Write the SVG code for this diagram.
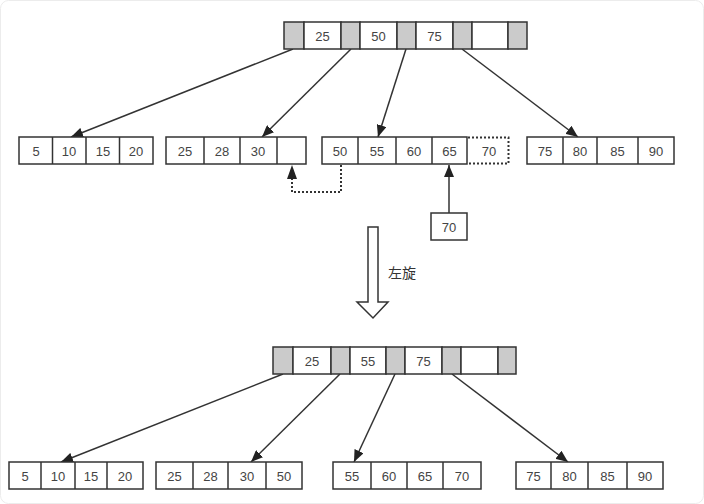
<svg xmlns="http://www.w3.org/2000/svg" width="704" height="504" viewBox="0 0 704 504">
<style>
.cell{fill:#fff;stroke:#333;stroke-width:1.5}
.ptr{fill:#cbcbcb;stroke:#333;stroke-width:1.5}
.div{stroke:#333;stroke-width:1.5}
.t{font-family:"Liberation Sans",Arial,sans-serif;font-size:13px;fill:#444;text-anchor:middle;dominant-baseline:central}
.edge{stroke:#333;stroke-width:1.5;fill:none}
.dot{stroke:#333;stroke-width:2;fill:none;stroke-dasharray:2 2}
.cn{font-family:"Liberation Sans","Noto Sans CJK SC",sans-serif;font-size:14px;fill:#333}
</style>
<defs>
<marker id="ah" markerUnits="userSpaceOnUse" markerWidth="12" markerHeight="10" refX="12" refY="5" orient="auto">
<path d="M0,0 L12,5 L0,10 z" fill="#222" stroke="none"/>
</marker>
</defs>
<rect x="0.5" y="0.5" width="703" height="503" rx="8" fill="#fff" stroke="#ececec"/>

<g id="connectors">
<line class="edge" x1="293" y1="49" x2="71" y2="137" marker-end="url(#ah)"/>
<line class="edge" x1="351" y1="49" x2="262" y2="137" marker-end="url(#ah)"/>
<line class="edge" x1="406" y1="49" x2="378" y2="137" marker-end="url(#ah)"/>
<line class="edge" x1="462" y1="49" x2="578" y2="137" marker-end="url(#ah)"/>
<line class="edge" x1="449" y1="213" x2="449" y2="165" marker-end="url(#ah)"/>
<path class="dot" d="M341,165 V192 H292 V178"/>
<path d="M292,165 L287,179 L297,179 z" fill="#222"/>
<line class="edge" x1="283" y1="374" x2="61" y2="462" marker-end="url(#ah)"/>
<line class="edge" x1="340" y1="374" x2="251" y2="462" marker-end="url(#ah)"/>
<line class="edge" x1="395" y1="374" x2="354" y2="462" marker-end="url(#ah)"/>
<line class="edge" x1="452" y1="374" x2="568" y2="462" marker-end="url(#ah)"/>
</g>

<g id="root-top">
<rect class="ptr" x="284" y="22" width="20" height="27"/>
<rect class="cell" x="304" y="22" width="37" height="27"/>
<rect class="ptr" x="341" y="22" width="19" height="27"/>
<rect class="cell" x="360" y="22" width="37" height="27"/>
<rect class="ptr" x="397" y="22" width="19" height="27"/>
<rect class="cell" x="416" y="22" width="37" height="27"/>
<rect class="ptr" x="453" y="22" width="19" height="27"/>
<rect class="cell" x="472" y="22" width="36" height="27"/>
<rect class="ptr" x="508" y="22" width="19" height="27"/>
<text class="t" x="322.5" y="36">25</text>
<text class="t" x="378.5" y="36">50</text>
<text class="t" x="434.5" y="36">75</text>
</g>

<g id="leaf-top-1">
<rect class="cell" x="19" y="137" width="134" height="27"/>
<line class="div" x1="52.5" y1="137" x2="52.5" y2="164"/>
<line class="div" x1="86" y1="137" x2="86" y2="164"/>
<line class="div" x1="119.5" y1="137" x2="119.5" y2="164"/>
<text class="t" x="36" y="151">5</text>
<text class="t" x="69" y="151">10</text>
<text class="t" x="103" y="151">15</text>
<text class="t" x="136" y="151">20</text>
</g>

<g id="leaf-top-2">
<rect class="cell" x="166" y="137" width="140" height="27"/>
<line class="div" x1="204" y1="137" x2="204" y2="164"/>
<line class="div" x1="240" y1="137" x2="240" y2="164"/>
<line class="div" x1="277" y1="137" x2="277" y2="164"/>
<text class="t" x="185" y="151">25</text>
<text class="t" x="222" y="151">28</text>
<text class="t" x="258" y="151">30</text>
</g>

<g id="leaf-top-3">
<rect class="cell" x="322" y="137" width="145" height="27"/>
<line class="div" x1="358" y1="137" x2="358" y2="164"/>
<line class="div" x1="396" y1="137" x2="396" y2="164"/>
<line class="div" x1="432" y1="137" x2="432" y2="164"/>
<text class="t" x="340" y="151">50</text>
<text class="t" x="377" y="151">55</text>
<text class="t" x="414" y="151">60</text>
<text class="t" x="449.5" y="151">65</text>
<path class="dot" d="M468,137.5 H508.5 V163.5 H468"/>
<text class="t" x="489" y="151">70</text>
</g>

<g id="leaf-top-4">
<rect class="cell" x="527" y="137" width="147" height="27"/>
<line class="div" x1="563" y1="137" x2="563" y2="164"/>
<line class="div" x1="597" y1="137" x2="597" y2="164"/>
<line class="div" x1="638" y1="137" x2="638" y2="164"/>
<text class="t" x="545" y="151">75</text>
<text class="t" x="580" y="151">80</text>
<text class="t" x="617.5" y="151">85</text>
<text class="t" x="656" y="151">90</text>
</g>

<g id="new-key">
<rect class="cell" x="431" y="213" width="36" height="27"/>
<text class="t" x="449" y="227">70</text>
</g>

<g id="rotate-arrow">
<polygon points="368,227 378,227 378,302 388,302 373,318 357,302 368,302" fill="#fff" stroke="#333" stroke-width="1.5" stroke-linejoin="miter"/>
<text class="cn" x="388" y="278">左旋</text>
</g>

<g id="root-bottom">
<rect class="ptr" x="273" y="347" width="20" height="27"/>
<rect class="cell" x="293" y="347" width="38" height="27"/>
<rect class="ptr" x="331" y="347" width="19" height="27"/>
<rect class="cell" x="350" y="347" width="36" height="27"/>
<rect class="ptr" x="386" y="347" width="19" height="27"/>
<rect class="cell" x="405" y="347" width="37" height="27"/>
<rect class="ptr" x="442" y="347" width="19" height="27"/>
<rect class="cell" x="461" y="347" width="37" height="27"/>
<rect class="ptr" x="498" y="347" width="18" height="27"/>
<text class="t" x="312" y="361">25</text>
<text class="t" x="368" y="361">55</text>
<text class="t" x="423.5" y="361">75</text>
</g>

<g id="leaf-bottom-1">
<rect class="cell" x="9" y="462" width="134" height="27"/>
<line class="div" x1="41" y1="462" x2="41" y2="489"/>
<line class="div" x1="75" y1="462" x2="75" y2="489"/>
<line class="div" x1="107" y1="462" x2="107" y2="489"/>
<text class="t" x="25" y="476">5</text>
<text class="t" x="58" y="476">10</text>
<text class="t" x="91" y="476">15</text>
<text class="t" x="125" y="476">20</text>
</g>

<g id="leaf-bottom-2">
<rect class="cell" x="156" y="462" width="146" height="27"/>
<line class="div" x1="193" y1="462" x2="193" y2="489"/>
<line class="div" x1="228" y1="462" x2="228" y2="489"/>
<line class="div" x1="266" y1="462" x2="266" y2="489"/>
<text class="t" x="174.5" y="476">25</text>
<text class="t" x="210.5" y="476">28</text>
<text class="t" x="247" y="476">30</text>
<text class="t" x="284" y="476">50</text>
</g>

<g id="leaf-bottom-3">
<rect class="cell" x="333" y="462" width="148" height="27"/>
<line class="div" x1="371" y1="462" x2="371" y2="489"/>
<line class="div" x1="407" y1="462" x2="407" y2="489"/>
<line class="div" x1="443" y1="462" x2="443" y2="489"/>
<text class="t" x="352" y="476">55</text>
<text class="t" x="389" y="476">60</text>
<text class="t" x="425" y="476">65</text>
<text class="t" x="462" y="476">70</text>
</g>

<g id="leaf-bottom-4">
<rect class="cell" x="516" y="462" width="147" height="27"/>
<line class="div" x1="551" y1="462" x2="551" y2="489"/>
<line class="div" x1="588" y1="462" x2="588" y2="489"/>
<line class="div" x1="627" y1="462" x2="627" y2="489"/>
<text class="t" x="533.5" y="476">75</text>
<text class="t" x="569.5" y="476">80</text>
<text class="t" x="607.5" y="476">85</text>
<text class="t" x="645" y="476">90</text>
</g>
</svg>
